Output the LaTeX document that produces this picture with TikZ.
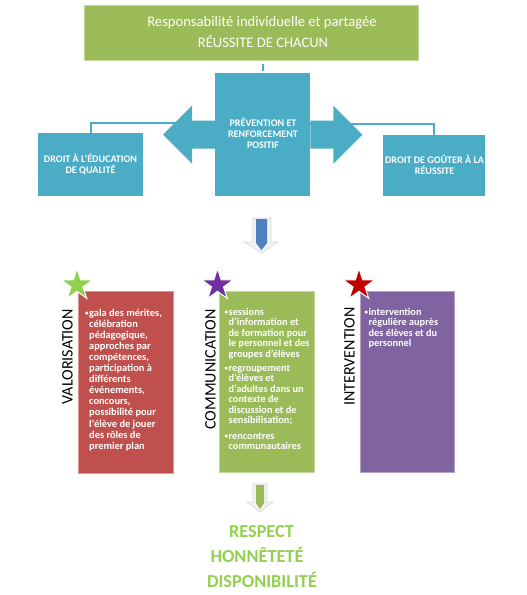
\documentclass[tikz,border=0pt]{standalone}
\usepackage{fontspec}
\usepackage{graphicx}
\setmainfont{Carlito}
\usetikzlibrary{calc}
\definecolor{boxgreen}{HTML}{9BBB59}
\definecolor{boxblue}{HTML}{4BACC6}
\definecolor{boxred}{HTML}{C0504D}
\definecolor{boxpurple}{HTML}{8064A2}
\definecolor{stargreen}{HTML}{92D050}
\definecolor{starpurple}{HTML}{7030A0}
\definecolor{starred}{HTML}{C00000}
\definecolor{arrowblue}{HTML}{4F81BD}
\newcommand\bl{\makebox[4pt][l]{\fontsize{7}{7}\selectfont\raisebox{0.6pt}{•}}}
\newcommand\ind{\hspace*{4pt}}
\begin{document}
\begin{tikzpicture}[x=1pt,y=-1pt,
  plainbox/.style={draw=none,inner sep=0pt,anchor=north west},
  conn/.style={draw=boxblue,line width=1.6pt},
  bluetxt/.style={anchor=base,inner sep=0pt,text=white},
  coltxt/.style={anchor=base west,inner sep=0pt,text=white},
  vtxt/.style={anchor=north east,inner sep=0pt,font=\fontsize{16}{18}\selectfont},
  bottxt/.style={anchor=base,inner sep=0pt,text=stargreen,font=\fontsize{18.3}{20}\selectfont\bfseries},
  startwo/.style={draw=white,line width=1pt,line join=miter}]
\useasboundingbox (0,0) rectangle (527,595);

% top box
\node[plainbox,fill=boxgreen,draw=boxgreen!60!white,line width=0.8pt,minimum width=334pt,minimum height=55pt] (t) at (84,5) {};
\node[anchor=base,inner sep=0pt,text=white,font=\fontsize{14.6}{16}\selectfont] (t1) at (262,26.7) {Responsabilité individuelle et partagée};
\node[anchor=base,inner sep=0pt,text=white,font=\fontsize{14.6}{16}\selectfont] (t2) at (263,47.7) {RÉUSSITE DE CHACUN};

% blue boxes
\node[plainbox,fill=boxblue,minimum width=95pt,minimum height=123pt] (c) at (215,73) {};
\node[plainbox,fill=boxblue,minimum width=105pt,minimum height=63pt] (l) at (38,133) {};
\node[plainbox,fill=boxblue,minimum width=102pt,minimum height=61pt] (r) at (383,135) {};

% connectors
\draw[conn] (l.north) |- ($(c.west)+(0,-11.5)$);
\draw[conn] (r.north) |- ($(c.east)+(0,-10.5)$);
\draw[draw=boxblue,line width=2pt,shorten <=3pt,shorten >=2pt] (t.south -| c.north) -- (c.north);

% double arrow
\fill[boxblue] (c.west) ++(0,-14) -- ++(-23,0) -- ++(0,-15) -- ++(-29,29) -- ++(29,29) -- ++(0,-15) -- ++(23,0) -- cycle;
\fill[boxblue] (c.east) ++(0,-14) -- ++(23,0) -- ++(0,-15) -- ++(29,29) -- ++(-29,29) -- ++(0,-15) -- ++(-23,0) -- cycle;

\node[bluetxt] (ct) at (263,126) {\parbox[t]{94pt}{\centering\fontsize{10.1}{11}\selectfont\bfseries PRÉVENTION ET\\RENFORCEMENT\\POSITIF}};
\node[bluetxt] (lt) at (90.5,162) {\parbox[t]{104pt}{\centering\fontsize{10.1}{11.3}\selectfont\bfseries DROIT À L’ÉDUCATION\\DE QUALITÉ}};
\node[bluetxt] (rt) at (434.5,163.3) {\parbox[t]{104pt}{\centering\fontsize{10.1}{10.7}\selectfont\bfseries DROIT DE GOÛTER À LA\\RÉUSSITE}};

% blue down arrow
\filldraw[fill=gray!10,draw=gray!30,line width=0.6pt] (253,218) -- (271,218) -- (271,242) -- (278,242) -- (262,253) -- (244,242) -- (253,242) -- cycle;
\fill[arrowblue] (256,219) -- (267,219) -- (267,243) -- (261.5,250) -- (256,243) -- cycle;

% column boxes
\node[plainbox,fill=boxred,draw=boxred!60!white,line width=0.6pt,minimum width=95pt,minimum height=182pt] (cv) at (78,291) {};
\node[plainbox,fill=boxgreen,draw=boxgreen!60!white,line width=0.6pt,minimum width=95pt,minimum height=181pt] (cc) at (219,291) {};
\node[plainbox,fill=boxpurple,draw=boxpurple!60!white,line width=0.6pt,minimum width=94pt,minimum height=181pt] (ci) at (360,291) {};

% stars
\foreach \cx/\cy/\col in {77/285/stargreen,217.5/285/starpurple,359/285/starred}{
  \filldraw[startwo,fill=\col,shift={(\cx,\cy)}] (-90:16.5) -- (-54:6.3) -- (-18:16.5) -- (18:6.3) -- (54:16.5) -- (90:6.3) -- (126:16.5) -- (162:6.3) -- (198:16.5) -- (234:6.3) -- cycle;
}

% vertical labels
\node[vtxt] (vv) at (73,309) {\rotatebox{90}{VALORISATION}};
\node[vtxt] (vc) at (216,309) {\rotatebox{90}{COMMUNICATION}};
\node[vtxt] (vi) at (355,307) {\rotatebox{90}{INTERVENTION}};

% column texts
\node[coltxt] (tv) at (85,316) {\parbox[t]{92pt}{\raggedright\fontsize{10.4}{11.1}\selectfont\bfseries
\bl gala des mérites,\\
\ind célébration\\
\ind pédagogique,\\
\ind approches par\\
\ind compétences,\\
\ind participation à\\
\ind différents\\
\ind événements,\\
\ind concours,\\
\ind possibilité pour\\
\ind l\textquotesingle élève de jouer\\
\ind des rôles de\\
\ind premier plan}};

\node[coltxt] (tc) at (224.5,315) {\parbox[t]{92pt}{\raggedright\fontsize{10.3}{10.5}\selectfont\bfseries
\bl sessions\\
\ind d’information et\\
\ind de formation pour\\
\ind le personnel et des\\
\ind groupes d’élèves\\[3.5pt]
\bl regroupement\\
\ind d’élèves et\\
\ind d’adultes dans un\\
\ind contexte de\\
\ind discussion et de\\
\ind sensibilisation;\\[5pt]
\bl rencontres\\
\ind communautaires}};

\node[coltxt] (ti) at (364.5,315) {\parbox[t]{92pt}{\raggedright\fontsize{10.3}{10.5}\selectfont\bfseries
\bl intervention\\
\ind régulière auprès\\
\ind des élèves et du\\
\ind personnel}};

% green down arrow
\filldraw[fill=gray!10,draw=gray!30,line width=0.6pt] (253,484) -- (267,484) -- (267,502) -- (273,502) -- (260,512) -- (247,502) -- (253,502) -- cycle;
\fill[boxgreen] (256,485) -- (264,485) -- (264,503) -- (260,509) -- (256,503) -- cycle;

% bottom words
\node[bottxt] (b1) at (261.5,537.7) {RESPECT};
\node[bottxt] (b2) at (257,562.7) {HONNÊTETÉ};
\node[bottxt] (b3) at (262,587.3) {DISPONIBILITÉ};
\end{tikzpicture}
\end{document}
